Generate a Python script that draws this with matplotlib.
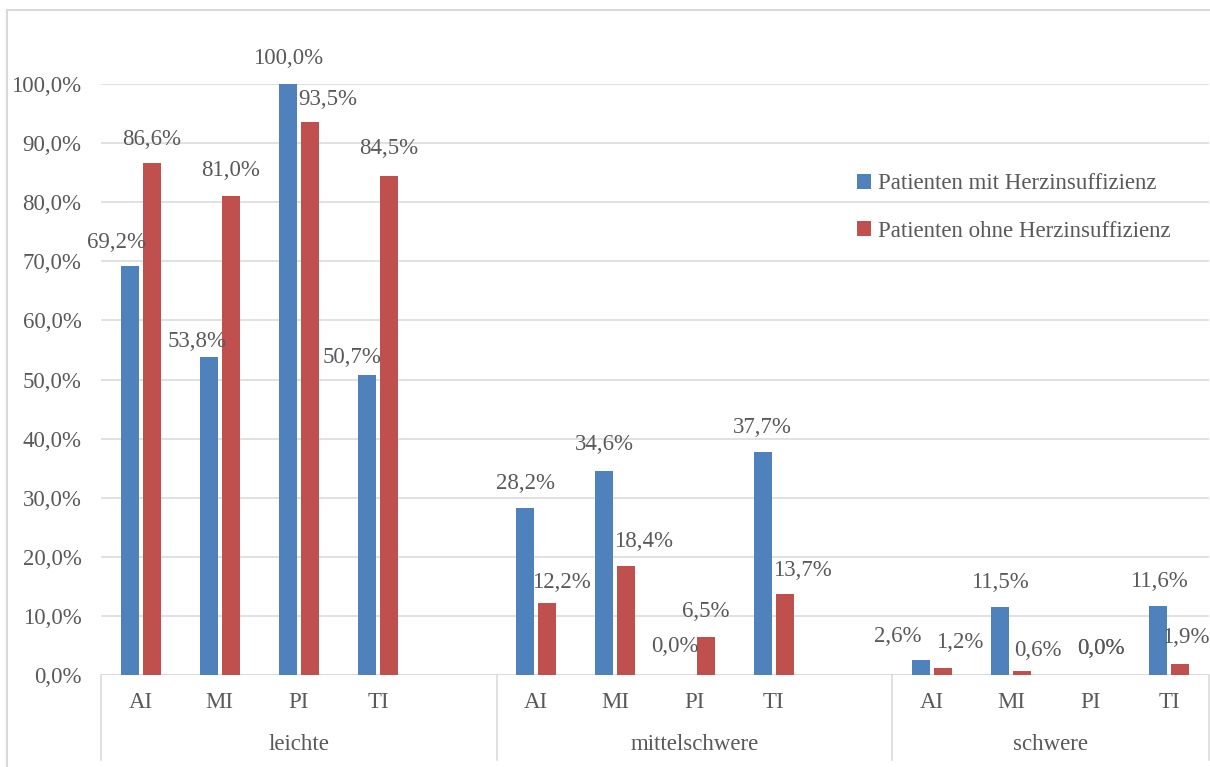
import numpy as np
import matplotlib
matplotlib.use("Agg")
import matplotlib.pyplot as plt
from matplotlib.lines import Line2D

# Schweregrad der Klappeninsuffizienz, Anteile in %
groups = ["leichte", "mittelschwere", "schwere"]
valves = ["AI", "MI", "PI", "TI"]
mit_hi = [[69.2, 53.8, 100.0, 50.7],
          [28.2, 34.6, 0.0, 37.7],
          [2.6, 11.5, 0.0, 11.6]]
ohne_hi = [[86.6, 81.0, 93.5, 84.5],
           [12.2, 18.4, 6.5, 13.7],
           [1.2, 0.6, 0.0, 1.9]]
series_names = ["Patienten mit Herzinsuffizienz", "Patienten ohne Herzinsuffizienz"]

# label nudges (pixels) so that neighbouring labels don't collide
dx_mit = [[-13, -12, 0, -15], [0, 0, -9, 0], [-23, 0, 22, 0]]
dy_mit = [[24, 16, 26, 18], [25, 26, 28, 25], [23, 25, 27, 25]]
dx_ohne = [[0, 0, 18, 0], [14, 17, 0, 18], [17, 16, 0, 5]]
dy_ohne = [[24, 26, 23, 27], [20, 25, 25, 24], [25, 21, 27, 26]]

blue = "#4F81BD"
red = "#C0504D"
txt = "#595959"
grid = "#D9D9D9"

plt.rcParams["font.family"] = ["Liberation Serif", "DejaVu Serif"]
plt.rcParams["font.size"] = 16.5

W, H = 1210, 767
fig = plt.figure(figsize=(W / 100, H / 100), dpi=100)
ax = fig.add_axes([101 / W, 92 / H, 1108 / W, 591 / H])

# slot layout: 5 slots per group (last one empty), last group only 4
group_start = [0, 5, 10]
group_end = [5, 10, 14]
bw = 0.228
off = 0.139

def fmt(v):
    return f"{v:.1f}%".replace(".", ",")

for g in range(len(groups)):
    x = np.arange(len(valves)) + group_start[g] + 0.5
    ax.bar(x - off, mit_hi[g], bw, color=blue, zorder=3,
           label=series_names[0] if g == 0 else None)
    ax.bar(x + off, ohne_hi[g], bw, color=red, zorder=3,
           label=series_names[1] if g == 0 else None)
    for k in range(len(valves)):
        ax.annotate(fmt(mit_hi[g][k]), (x[k] - off, mit_hi[g][k]),
                    xytext=(dx_mit[g][k], dy_mit[g][k]), textcoords="offset pixels",
                    ha="center", va="center", color=txt, annotation_clip=False)
        ax.annotate(fmt(ohne_hi[g][k]), (x[k] + off, ohne_hi[g][k]),
                    xytext=(dx_ohne[g][k], dy_ohne[g][k]), textcoords="offset pixels",
                    ha="center", va="center", color=txt, annotation_clip=False)
        ax.annotate(valves[k], (x[k], 0), xycoords=ax.get_xaxis_transform(),
                    xytext=(0, -28), textcoords="offset pixels",
                    ha="center", va="center", color=txt)
    ax.annotate(groups[g], ((group_start[g] + group_end[g]) / 2, 0),
                xycoords=ax.get_xaxis_transform(),
                xytext=(0, -70), textcoords="offset pixels",
                ha="center", va="center", color=txt)

# dividers of the two-level category axis
for xd in [0, 5, 10, 14]:
    ax.plot([xd, xd], [0, -85 / 591], transform=ax.get_xaxis_transform(),
            color=grid, lw=1.1, clip_on=False, zorder=1)

ax.set_xlim(0, 14)
ax.set_ylim(0, 100)
ax.set_yticks(np.arange(0, 101, 10))
ax.set_yticklabels([fmt(v) for v in np.arange(0, 101, 10)], color=txt)
ax.tick_params(axis="y", length=0, pad=14)
ax.set_xticks([])
ax.yaxis.grid(True, color=grid, lw=1.1, zorder=0)
ax.set_axisbelow(True)
for s in ax.spines.values():
    s.set_visible(False)
ax.axhline(0, color=grid, lw=1.1, zorder=2)

leg = fig.legend(loc="center left", bbox_to_anchor=(857 / W, 1 - 207.5 / H),
                 frameon=False, borderpad=0, borderaxespad=0,
                 handlelength=0.6, handleheight=0.6, handletextpad=0.3,
                 labelspacing=1.15, labelcolor=txt)

# chart area border (left and top edges)
fig.add_artist(Line2D([7 / W, 7 / W], [0, 1 - 10 / H], transform=fig.transFigure,
                      color=grid, lw=1.5))
fig.add_artist(Line2D([7 / W, 1], [1 - 10 / H, 1 - 10 / H], transform=fig.transFigure,
                      color=grid, lw=1.5))

fig.savefig("out.png", dpi=100, facecolor="white")
